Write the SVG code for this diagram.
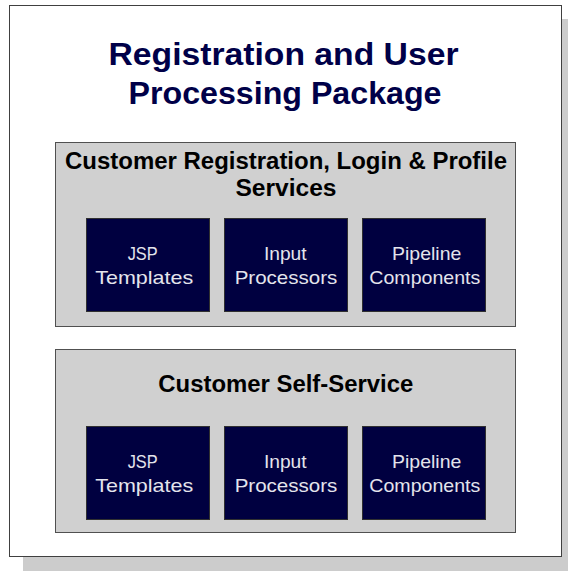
<svg xmlns="http://www.w3.org/2000/svg" width="568" height="571" viewBox="0 0 568 571">
  <style>
    .shadow { fill: #cccccc; }
    .frame { fill: #ffffff; stroke: #404040; stroke-width: 1; }
    .panel { fill: #d0d0d0; stroke: #505050; stroke-width: 1; }
    .box { fill: #000040; stroke: #303030; stroke-width: 1; }
    .title { font-family: "Liberation Sans", Arial, sans-serif; font-weight: bold; font-size: 32px; fill: #000048; text-anchor: middle; }
    .ptitle { font-family: "Liberation Sans", Arial, sans-serif; font-weight: bold; font-size: 23px; fill: #000000; text-anchor: middle; }
    .label { font-family: "Liberation Sans", Arial, sans-serif; font-size: 19px; fill: #e4e4ec; text-anchor: middle; }
  </style>

  <!-- package frame with drop shadow -->
  <g id="package">
    <rect class="shadow" x="23" y="19" width="553" height="552"/>
    <rect class="frame" x="9.5" y="5.5" width="552" height="551"/>
    <text class="title" x="283.5" y="65" textLength="350" lengthAdjust="spacingAndGlyphs">Registration and User</text>
    <text class="title" x="285" y="104" textLength="313" lengthAdjust="spacingAndGlyphs">Processing Package</text>
  </g>

  <!-- first service panel -->
  <g id="registration-services">
    <rect class="panel" x="55.5" y="142.5" width="460" height="184"/>
    <text class="ptitle" x="286" y="169" textLength="442" lengthAdjust="spacingAndGlyphs">Customer Registration, Login &amp; Profile</text>
    <text class="ptitle" x="286" y="196" textLength="101" lengthAdjust="spacingAndGlyphs">Services</text>
  </g>
  <g id="reg-jsp">
    <rect class="box" x="86.5" y="218.5" width="123" height="93"/>
    <text class="label" x="142.7" y="260" textLength="30" lengthAdjust="spacingAndGlyphs">JSP</text>
    <text class="label" x="144.2" y="284" textLength="98" lengthAdjust="spacingAndGlyphs">Templates</text>
  </g>
  <g id="reg-input">
    <rect class="box" x="224.5" y="218.5" width="123" height="93"/>
    <text class="label" x="285.3" y="260" textLength="42.7" lengthAdjust="spacingAndGlyphs">Input</text>
    <text class="label" x="286" y="284" textLength="102.7" lengthAdjust="spacingAndGlyphs">Processors</text>
  </g>
  <g id="reg-pipeline">
    <rect class="box" x="362.5" y="218.5" width="123" height="93"/>
    <text class="label" x="426.7" y="260" textLength="69.3" lengthAdjust="spacingAndGlyphs">Pipeline</text>
    <text class="label" x="424.8" y="284" textLength="111" lengthAdjust="spacingAndGlyphs">Components</text>
  </g>

  <!-- second service panel -->
  <g id="self-service">
    <rect class="panel" x="55.5" y="349.5" width="460" height="183"/>
    <text class="ptitle" x="285.8" y="392" textLength="255" lengthAdjust="spacingAndGlyphs">Customer Self-Service</text>
  </g>
  <g id="self-jsp">
    <rect class="box" x="86.5" y="426.5" width="123" height="93"/>
    <text class="label" x="142.7" y="468" textLength="30" lengthAdjust="spacingAndGlyphs">JSP</text>
    <text class="label" x="144.2" y="492" textLength="98" lengthAdjust="spacingAndGlyphs">Templates</text>
  </g>
  <g id="self-input">
    <rect class="box" x="224.5" y="426.5" width="123" height="93"/>
    <text class="label" x="285.3" y="468" textLength="42.7" lengthAdjust="spacingAndGlyphs">Input</text>
    <text class="label" x="286" y="492" textLength="102.7" lengthAdjust="spacingAndGlyphs">Processors</text>
  </g>
  <g id="self-pipeline">
    <rect class="box" x="362.5" y="426.5" width="123" height="93"/>
    <text class="label" x="426.7" y="468" textLength="69.3" lengthAdjust="spacingAndGlyphs">Pipeline</text>
    <text class="label" x="424.8" y="492" textLength="111" lengthAdjust="spacingAndGlyphs">Components</text>
  </g>

  <!-- no connectors in this diagram -->
  <g id="connectors"/>
</svg>
